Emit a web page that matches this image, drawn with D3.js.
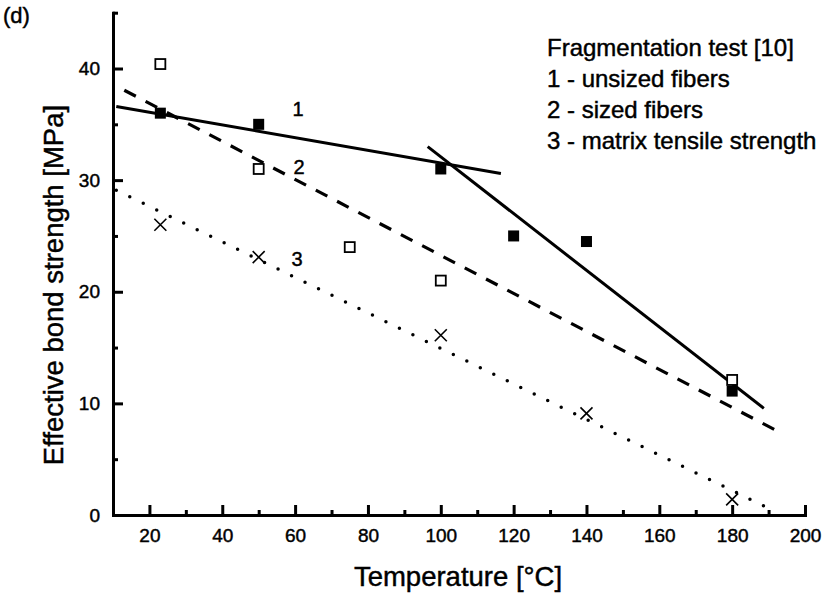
<!DOCTYPE html>
<html>
<head>
<meta charset="utf-8">
<script src="https://cdn.jsdelivr.net/npm/d3@7/dist/d3.min.js"></script>
<style>
  body { margin: 0; background: #fff; }
  svg { display: block; font-family: "Liberation Sans", Arial, Helvetica, sans-serif; }
  svg text { fill: #000; stroke: #000; stroke-width: 0.45; }
  .axis path, .axis line { stroke: #000; stroke-width: 3; }
  .axis text { font-size: 19px; }
</style>
</head>
<body>
<script>
// Temperature [°C] vs effective bond strength [MPa]
var unsized = [[23, 36], [50, 35], [100, 31], [120, 25], [140, 24.5], [180, 11.1]];
var sized = [[23, 40.4], [50, 31], [75, 24], [100, 21], [180, 12.1]];
var matrix = [[23, 26], [50, 23.1], [100, 16.1], [140, 9.1], [180, 1.4]];

// fitted lines
var fit1a = [[10.9, 36.6], [116.5, 30.6]];
var fit1b = [[96.4, 33.0], [188.7, 9.55]];
var fit2 = [[13.1, 38.05], [192.8, 7.46]];
var fit3 = [[10.9, 29.1], [191.9, 0.3]];

var xTicks = [20, 40, 60, 80, 100, 120, 140, 160, 180, 200];
var xMinor = [30, 50, 70, 90, 110, 130, 150, 170, 190];
var yTicks = [0, 10, 20, 30, 40];
var yMinor = [5, 15, 25, 35, 45];

var legendLines = ['Fragmentation test [10]', '1 - unsized fibers', '2 - sized fibers', '3 - matrix tensile strength'];
var curveLabels = [{text: '1', x: 298, y: 116}, {text: '2', x: 299, y: 174}, {text: '3', x: 297, y: 266}];

var width = 831, height = 594;

var svg = d3.select('body').append('svg')
  .attr('width', width)
  .attr('height', height);

var x = d3.scaleLinear().domain([10, 200]).range([113, 805]);
var y = d3.scaleLinear().domain([0, 45]).range([515, 12.7]);

// minor ticks first
svg.append('g')
  .attr('class', 'axis')
  .attr('transform', 'translate(0,' + y(0) + ')')
  .call(d3.axisBottom(x).tickValues(xMinor).tickSizeInner(-5).tickSizeOuter(0).tickFormat(''))
  .call(function(g) { g.select('.domain').remove(); });

svg.append('g')
  .attr('class', 'axis')
  .attr('transform', 'translate(' + x(10) + ',0)')
  .call(d3.axisLeft(y).tickValues(yMinor).tickSizeInner(-5).tickSizeOuter(0).tickFormat(''))
  .call(function(g) { g.select('.domain').remove(); });

// major axes
svg.append('g')
  .attr('class', 'axis')
  .attr('transform', 'translate(0,' + y(0) + ')')
  .call(d3.axisBottom(x).tickValues(xTicks).tickSizeInner(-10).tickSizeOuter(0).tickPadding(13.5));

svg.append('g')
  .attr('class', 'axis')
  .attr('transform', 'translate(' + x(10) + ',0)')
  .call(d3.axisLeft(y).tickValues(yTicks).tickSizeInner(-10).tickSizeOuter(0).tickPadding(13));

svg.selectAll('.axis .domain').attr('stroke-linecap', 'square');

// axis titles
svg.append('text')
  .attr('x', 458)
  .attr('y', 586)
  .attr('text-anchor', 'middle')
  .attr('font-size', 27.5)
  .text('Temperature [°C]');

svg.append('text')
  .attr('transform', 'translate(63,285) rotate(-90)')
  .attr('text-anchor', 'middle')
  .attr('font-size', 27.5)
  .text('Effective bond strength [MPa]');

svg.append('text')
  .attr('x', 3)
  .attr('y', 23)
  .attr('font-size', 22)
  .text('(d)');

// fit lines
var line = d3.line()
  .x(function(d) { return x(d[0]); })
  .y(function(d) { return y(d[1]); });

[fit1a, fit1b].forEach(function(f) {
  svg.append('path')
    .attr('d', line(f))
    .attr('fill', 'none')
    .attr('stroke', '#000')
    .attr('stroke-width', 3);
});

svg.append('path')
  .attr('d', line(fit2))
  .attr('fill', 'none')
  .attr('stroke', '#000')
  .attr('stroke-width', 3.2)
  .attr('stroke-dasharray', '13,11');

svg.append('path')
  .attr('d', line(fit3))
  .attr('fill', 'none')
  .attr('stroke', '#000')
  .attr('stroke-width', 3.5)
  .attr('stroke-linecap', 'round')
  .attr('stroke-dasharray', '0,15');

// markers
svg.selectAll('rect.sized')
  .data(sized)
  .enter().append('rect')
  .attr('class', 'sized')
  .attr('x', function(d) { return x(d[0]) - 5; })
  .attr('y', function(d) { return y(d[1]) - 5; })
  .attr('width', 10)
  .attr('height', 10)
  .attr('fill', '#fff')
  .attr('stroke', '#000')
  .attr('stroke-width', 1.8);

svg.selectAll('rect.unsized')
  .data(unsized)
  .enter().append('rect')
  .attr('class', 'unsized')
  .attr('x', function(d) { return x(d[0]) - 5.5; })
  .attr('y', function(d) { return y(d[1]) - 5.5; })
  .attr('width', 11)
  .attr('height', 11)
  .attr('fill', '#000');

var cross = svg.selectAll('g.matrix')
  .data(matrix)
  .enter().append('g')
  .attr('class', 'matrix')
  .attr('transform', function(d) { return 'translate(' + x(d[0]) + ',' + y(d[1]) + ')'; });
cross.append('path')
  .attr('d', 'M-6,-6L6,6M-6,6L6,-6')
  .attr('stroke', '#000')
  .attr('stroke-width', 1.6);

// curve numbers
svg.selectAll('text.curve')
  .data(curveLabels)
  .enter().append('text')
  .attr('class', 'curve')
  .attr('x', function(d) { return d.x; })
  .attr('y', function(d) { return d.y; })
  .attr('text-anchor', 'middle')
  .attr('font-size', 20)
  .text(function(d) { return d.text; });

// legend text
svg.selectAll('text.legend')
  .data(legendLines)
  .enter().append('text')
  .attr('class', 'legend')
  .attr('x', 547)
  .attr('y', function(d, i) { return 56 + i * 31; })
  .attr('font-size', 24)
  .text(function(d) { return d; });
</script>
</body>
</html>
